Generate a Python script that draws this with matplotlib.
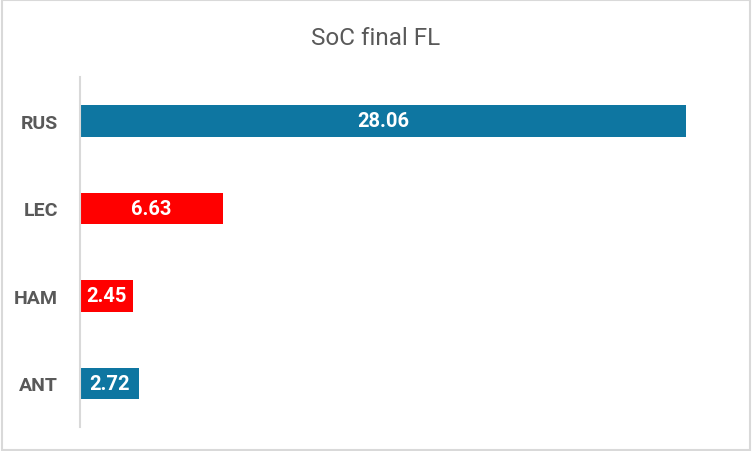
import matplotlib.pyplot as plt
from matplotlib.patches import Rectangle

# data, top to bottom as shown in the chart
drivers = ["RUS", "LEC", "HAM", "ANT"]
soc_final = [28.06, 6.63, 2.45, 2.72]
bar_colors = ["#0E76A1", "#FF0000", "#FF0000", "#0E76A1"]

TEXT_GREY = "#595959"
LINE_GREY = "#D9D9D9"

plt.rcParams["font.family"] = ["Roboto", "DejaVu Sans"]

fig = plt.figure(figsize=(7.52, 4.52), dpi=100)
ax = fig.add_axes([0.1064, 0.0531, 0.862, 0.7743])

ypos = list(range(len(drivers)))
bars = ax.barh(ypos, soc_final, height=0.36, color=bar_colors)

for b, val in zip(bars, soc_final):
    ax.text(b.get_width() / 2, b.get_y() + b.get_height() / 2, f"{val:.2f}",
            ha="center", va="center", color="white", fontsize=14.5, fontweight="bold")

ax.set_xlim(0, 30)
ax.set_ylim(len(drivers) - 0.5, -0.5)
ax.set_yticks(ypos)
ax.set_yticklabels(drivers, fontsize=14, fontweight="bold", color=TEXT_GREY)
ax.tick_params(axis="y", length=0, pad=16)
ax.set_xticks([])

for side in ["top", "right", "bottom"]:
    ax.spines[side].set_visible(False)
ax.spines["left"].set_color(LINE_GREY)
ax.spines["left"].set_linewidth(1.5)

fig.text(0.5, 0.915, "SoC final FL", ha="center", va="center",
         fontsize=17.5, color=TEXT_GREY)

# outer chart border
fig.patches.append(Rectangle((0.002, 0.003), 0.996, 0.994, transform=fig.transFigure,
                             fill=False, edgecolor=LINE_GREY, linewidth=1.5))

fig.savefig("out.png", dpi=100)
